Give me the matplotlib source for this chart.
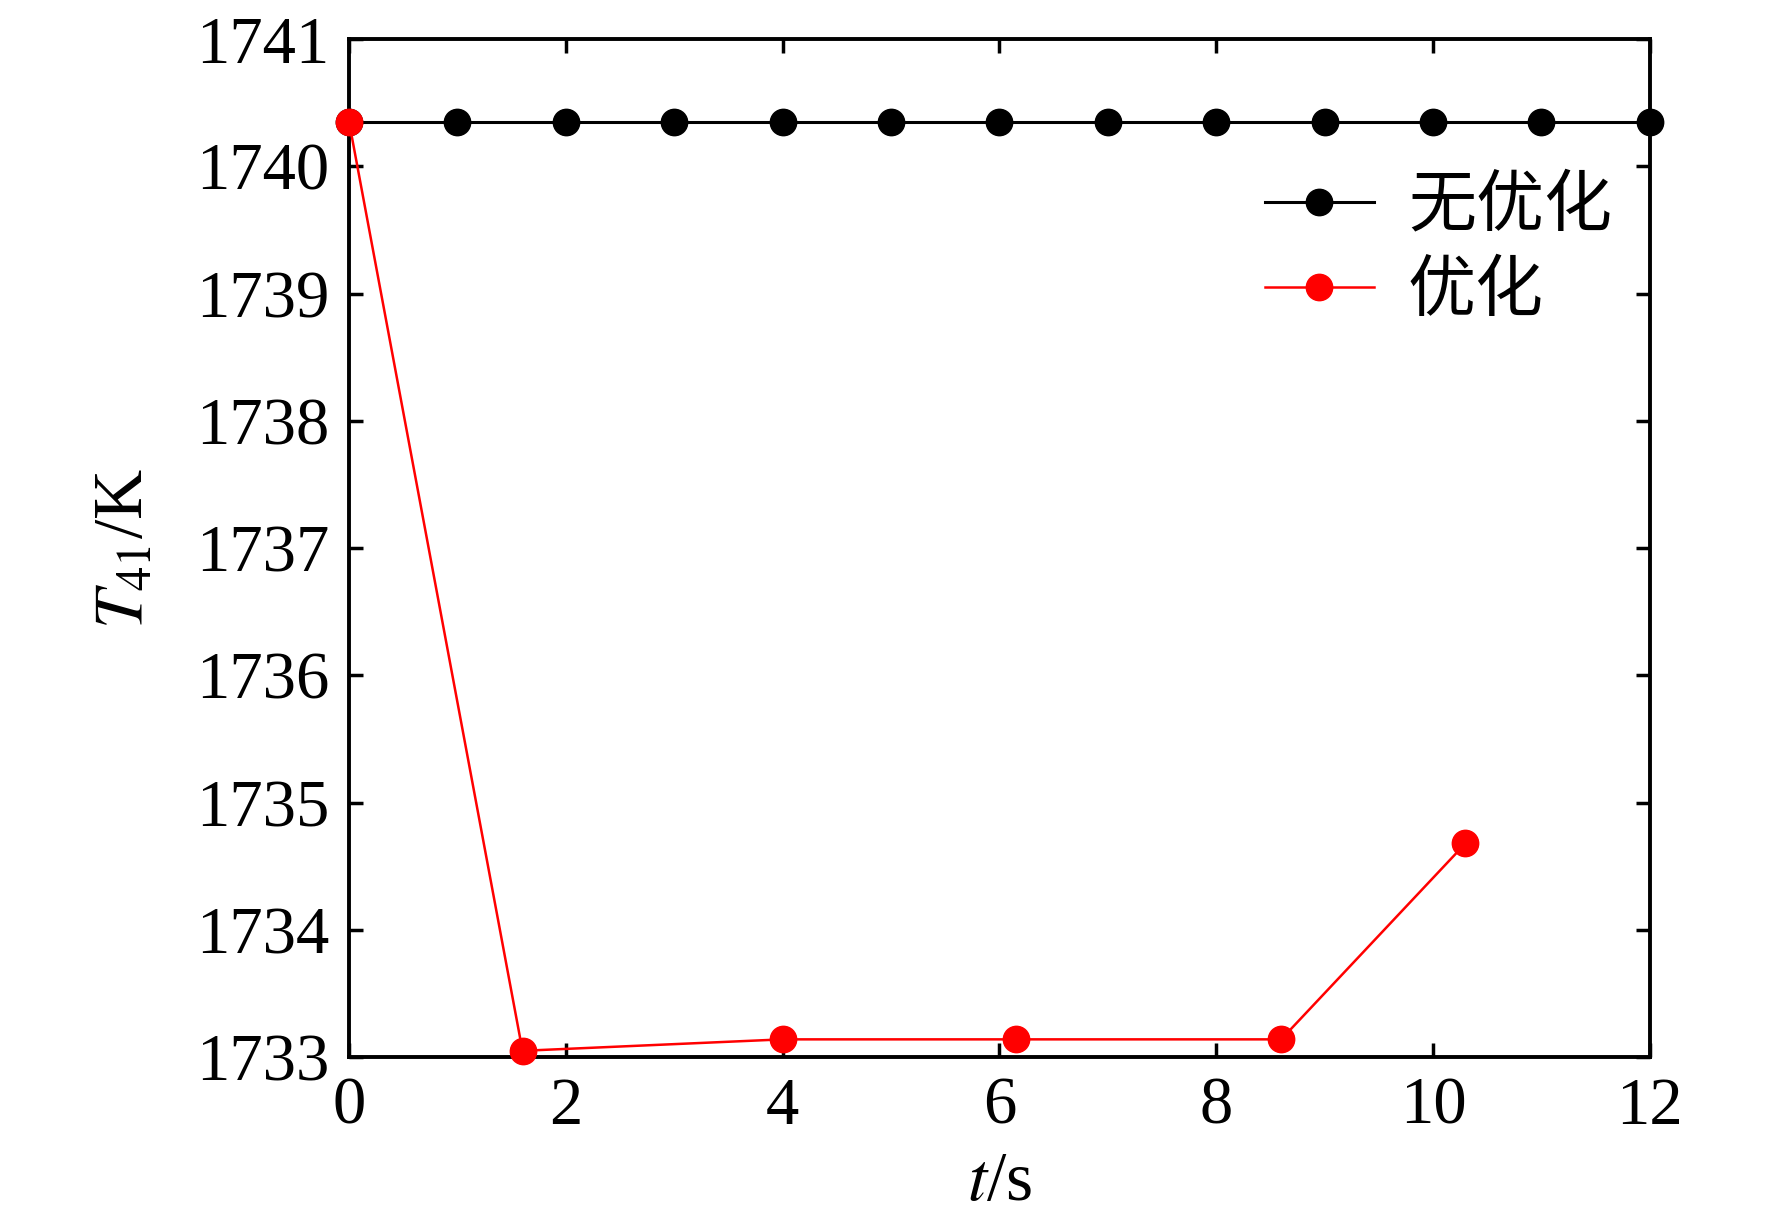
import matplotlib
matplotlib.use("Agg")
import matplotlib.pyplot as plt
from matplotlib import font_manager

# Data
t_base = [0, 1, 2, 3, 4, 5, 6, 7, 8, 9, 10, 11, 12]
T_base = [1740.35] * 13

t_opt = [0, 1.6, 4.0, 6.15, 8.6, 10.3]
T_opt = [1740.35, 1733.05, 1733.14, 1733.14, 1733.14, 1734.68]

labels = ["无优化", "优化"]
y_ticks = [1733, 1734, 1735, 1736, 1737, 1738, 1739, 1740, 1741]
x_ticks = [0, 2, 4, 6, 8, 10, 12]

names = {f.name for f in font_manager.fontManager.ttflist}
cjk = "Noto Serif CJK SC" if "Noto Serif CJK SC" in names else "Noto Sans CJK SC"

plt.rcParams["font.family"] = ["Liberation Serif", cjk]
plt.rcParams["mathtext.fontset"] = "stix"

fig = plt.figure(figsize=(17.72, 12.25), dpi=100)
ax = fig.add_axes([0.197, 0.137, 0.734, 0.831])

ax.plot(t_base, T_base, color="black", lw=2.2, marker="o", ms=19,
        label=labels[0], clip_on=False, zorder=3)
ax.plot(t_opt, T_opt, color="red", lw=1.8, marker="o", ms=19,
        label=labels[1], clip_on=False, zorder=4)

ax.set_xlim(0, 12)
ax.set_ylim(1733, 1741)
ax.set_xticks(x_ticks)
ax.set_yticks(y_ticks)

ax.tick_params(direction="in", length=10, width=2.5, labelsize=48,
               top=True, right=True, pad=14)
for s in ax.spines.values():
    s.set_linewidth(2.8)

ax.set_xlabel(r"$t$/s", fontsize=50, labelpad=10)
ax.set_ylabel(r"$T_{41}$/K", fontsize=50, labelpad=28)

leg = ax.legend(loc="upper right", bbox_to_anchor=(1.018, 0.93), frameon=False,
                handlelength=1.6, handletextpad=0.5,
                labelspacing=0.22, prop={"family": [cjk], "size": 49})

fig.savefig("out.png", dpi=100)
